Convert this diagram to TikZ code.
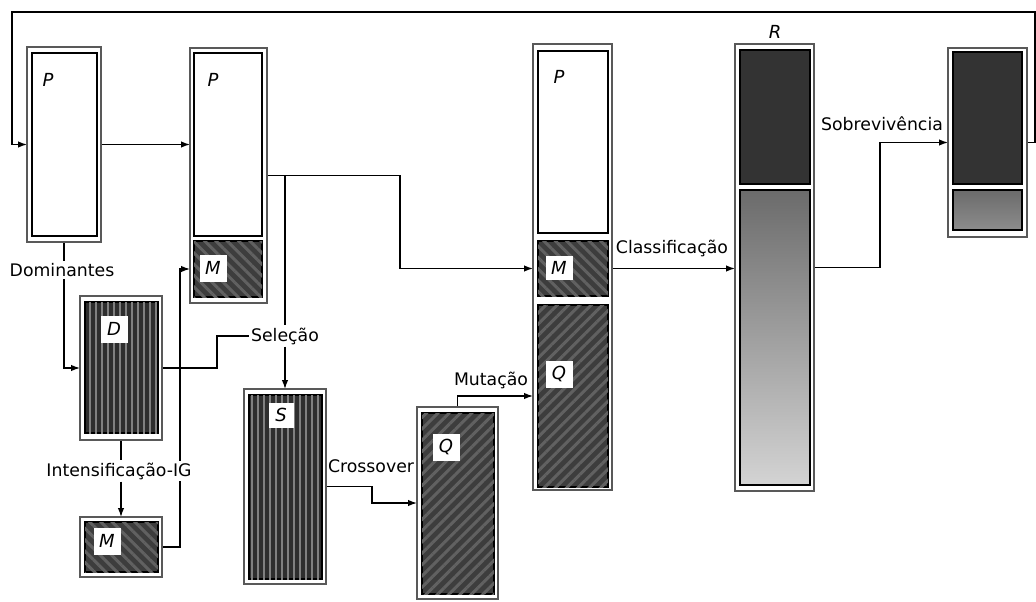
\documentclass[tikz,border=0pt]{standalone}
\usepackage{fontspec}
\setmainfont{DejaVu Sans}
\usetikzlibrary{arrows.meta,patterns.meta,calc}
\pgfdeclarelayer{bg}
\pgfsetlayers{bg,main}
\definecolor{darkblk}{HTML}{333333}
\tikzset{
  box/.style={rectangle, inner sep=0pt, outer sep=0pt, anchor=north west},
  frame/.style={box, draw=black!65, line width=1.6pt, fill=white},
  blank/.style={box, draw=black, line width=1.3pt, fill=white},
  vstripes/.style={box, draw=black, line width=1.3pt, fill=black!82,
     postaction={pattern={Lines[angle=90,distance=6pt,line width=2pt]}, pattern color=black!50}},
  hatchM/.style={box, draw=black, line width=1.3pt, fill=black!76,
     postaction={pattern={Lines[angle=-45,distance=8pt,line width=3pt]}, pattern color=black!62}},
  hatchQ/.style={box, draw=black, line width=1.3pt, fill=black!76,
     postaction={pattern={Lines[angle=45,distance=8pt,line width=3pt]}, pattern color=black!62}},
  darkbox/.style={box, draw=black, line width=1.3pt, fill=darkblk},
  gradbox/.style={box, draw=black, line width=1.3pt, top color=black!58, bottom color=black!17},
  tag/.style={fill=white, inner sep=0pt, minimum width=27pt, minimum height=27pt, font=\fontsize{18}{20}\selectfont\itshape},
  plain/.style={inner sep=0pt, font=\fontsize{18}{20}\selectfont\itshape},
  lab/.style={fill=white, inner sep=2pt, font=\fontsize{17.3}{19}\selectfont},
  conn/.style={draw=black, line width=1.3pt},
  arr/.style={conn, -{Latex[length=9pt,width=6.5pt]}},
}
\begin{document}
\begin{tikzpicture}[x=1pt,y=-1pt]
\useasboundingbox (0,0) rectangle (1036,602);

% first population
\node[frame, minimum width=74pt, minimum height=195pt] (p1) at (27,47) {};
\node[blank, minimum width=65pt, minimum height=183pt] (p1i) at (32,53) {};
\node[plain] (p1l) at (48,80) {P};

% second population with M
\node[frame, minimum width=77pt, minimum height=255pt] (p2) at (190,48) {};
\node[blank, minimum width=68pt, minimum height=183pt] (p2i) at (194,53) {};
\node[plain] (p2l) at (213,80) {P};
\node[hatchM, minimum width=68pt, minimum height=56pt] (m2) at (194,241) {};
\node[tag] (m2l) at (213,268) {M};

% dominants D
\node[frame, minimum width=82pt, minimum height=144pt] (d) at (80,296) {};
\node[vstripes, minimum width=73pt, minimum height=131pt] (di) at (85,302) {};
\node[tag] (dl) at (114,329) {D};

% M small
\node[frame, minimum width=82pt, minimum height=60pt] (m1) at (80,517) {};
\node[hatchM, minimum width=73pt, minimum height=50pt] (m1i) at (85,522) {};
\node[tag] (m1l) at (107,541) {M};

% S
\node[frame, minimum width=82pt, minimum height=195pt] (s) at (244,389) {};
\node[vstripes, minimum width=73pt, minimum height=184pt] (si) at (249,395) {};
\node[tag, minimum width=25pt, minimum height=25pt] (sl) at (281,415) {S};

% Q
\node[frame, minimum width=81pt, minimum height=192pt] (q) at (417,407) {};
\node[hatchQ, minimum width=72pt, minimum height=181pt] (qi) at (422,413) {};
\node[tag] (ql) at (446,447) {Q};

% combined P+M+Q
\node[frame, minimum width=79pt, minimum height=446pt] (c3) at (533,44) {};
\node[blank, minimum width=70pt, minimum height=182pt] (p3) at (538,51) {};
\node[plain] (p3l) at (559,77) {P};
\node[hatchM, minimum width=70pt, minimum height=55pt] (m3) at (538,241) {};
\node[tag, minimum height=24pt] (m3l) at (559,268) {M};
\node[hatchQ, minimum width=70pt, minimum height=182pt] (q3) at (538,305) {};
\node[tag] (q3l) at (559,374) {Q};

% R
\node[frame, minimum width=79pt, minimum height=447pt] (r) at (735,44) {};
\node[darkbox, minimum width=70pt, minimum height=134pt] (rt) at (740,50) {};
\node[gradbox, minimum width=70pt, minimum height=295pt] (rg) at (740,190) {};
\node[plain] (rl) at (775,32) {R};

% final
\node[frame, minimum width=79pt, minimum height=189pt] (f) at (948,48) {};
\node[darkbox, minimum width=69pt, minimum height=132pt] (ft) at (953,52) {};
\node[box, draw=black, line width=1.3pt, top color=black!58, bottom color=black!45, minimum width=69pt, minimum height=40pt] (fg) at (953,190) {};

% labels
\node[lab] (dom) at (62,270) {Dominantes};
\node[lab] (int) at (119,471) {Intensificação-IG};
\node[lab] (sel) at (285,336) {Seleção};
\node[lab, fill=none] (cro) at (371,466) {Crossover};
\node[lab, fill=none] (mut) at (491,380) {Mutação};
\node[lab, fill=none] (cla) at (672,248) {Classificação};
\node[lab, fill=none] (sob) at (882,124) {Sobrevivência};

\coordinate (fbR) at (1035,12);
\coordinate (fbL) at (12,12);
\coordinate (j1) at (400,175.5);
\coordinate (j2) at (285,175.5);

\begin{pgfonlayer}{bg}
% feedback
\draw[arr] (f.east) -| (fbR) -- (fbL) |- (p1.west);
% P -> P
\draw[arr] (p1.east) -- (p1.east -| p2.west);
% P -> combined
\draw[arr] (p2.east) -| (j1) |- (c3.west |- m3.west);
% selection
\draw[conn] (j2) -- (sel.north);
\draw[arr] (sel.south) -- (s.north);
\draw[conn] (d.east) -- ++(55,0) |- (sel.west);
% dominants
\draw[conn] (p1.south) -- (p1.south |- dom.north);
\draw[arr] (p1.south |- dom.south) |- (d.west);
% intensification
\draw[conn] (d.south) -- (d.south |- int.north);
\draw[arr] (d.south |- int.south) -- (m1.north);
\draw[arr] (m1.east) -- ++(18,0) |- (p2.west |- m2.west);
% crossover
\draw[arr] (s.east) -- ++(46,0) |- (q.west);
% mutation
\draw[arr] (q.north) |- (c3.west |- q3.west);
% classification
\draw[arr] (c3.east |- m3.east) -- (r.west |- m3.east);
% survival
\draw[arr] (r.east) -- ++(66,0) |- (f.west);
\end{pgfonlayer}
\end{tikzpicture}
\end{document}
